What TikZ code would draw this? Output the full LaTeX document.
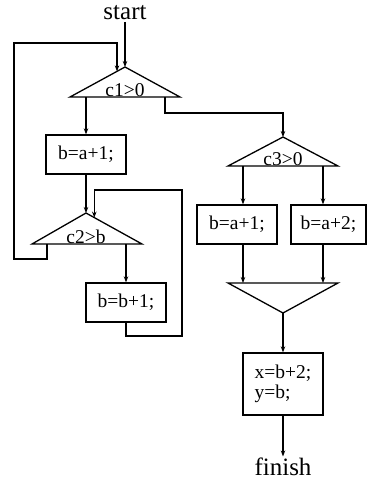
\documentclass[tikz,border=0pt]{standalone}
\usepackage{fontspec}
\setmainfont{Liberation Serif}
\usetikzlibrary{arrows.meta,calc}
\begin{document}
\begin{tikzpicture}[x=1pt,y=-1pt,
  line width=1.3pt,
  flow/.style={-{Stealth[length=6pt,width=4.5pt]}},
  stmt/.style={draw,minimum width=80pt,minimum height=39pt,inner sep=0pt,
    font=\fontsize{19.5}{19.5}\selectfont},
  cond/.style={font=\fontsize{19.5}{19.5}\selectfont,anchor=base,inner sep=0pt},
  term/.style={font=\fontsize{25}{26}\selectfont,inner sep=1pt}]
\useasboundingbox (0,0) rectangle (368,480);
% terminals
\node[term] (start) at (125,13) {start};
\node[term] (finish) at (283,467) {finish};
% condition c1
\coordinate (c1a) at (125,67);
\coordinate (c1l) at (70,97);
\coordinate (c1r) at (180,97);
\draw (c1a) -- (c1l) -- (c1r) -- cycle;
\node[cond] (c1) at (125,96) {c1>0};
% condition c2
\coordinate (c2a) at (86,213);
\coordinate (c2l) at (32,244);
\coordinate (c2r) at (142,244);
\draw (c2a) -- (c2l) -- (c2r) -- cycle;
\node[cond] (c2) at (86,243) {c2>b};
% condition c3
\coordinate (c3a) at (283,137);
\coordinate (c3l) at (228,166);
\coordinate (c3r) at (338,166);
\draw (c3a) -- (c3l) -- (c3r) -- cycle;
\node[cond] (c3) at (283,165) {c3>0};
% merge
\coordinate (mgl) at (228,283);
\coordinate (mgr) at (338,283);
\coordinate (mga) at (283,313);
\draw (mgl) -- (mgr) -- (mga) -- cycle;
% statements
\node[stmt] (b1) at (86,154.5) {b=a+1;};
\node[stmt] (b2) at (126,302.5) {b=b+1;};
\node[stmt] (b3) at (237,224.5) {b=a+1;};
\node[stmt,minimum width=75pt] (b4) at (328.5,224.5) {b=a+2;};
\node[stmt,minimum height=62pt,align=left] (b5) at (283,384) {x=b+2;\\y=b;};
% base points
\coordinate (c1o1) at (86,97);
\coordinate (c1o2) at (165,97);
\coordinate (c2o1) at (47,244);
\coordinate (c2o2) at (126,244);
\coordinate (c3o1) at (243,166);
\coordinate (c3o2) at (323,166);
\coordinate (c1in) at ($(c1a)!8/55!(c1l)$);
\coordinate (c2in) at ($(c2a)!8/54!(c2r)$);
% connectors
\draw[flow] (start) -- (c1a);
\draw[flow] (c2o1) -- (47,259) -- (14,259) -- (14,43) -- (c1in |- 0,43) -- (c1in);
\draw[flow] (c1o1) -- (b1.north);
\draw[flow] (c1o2) -- (165,113) -- (283,113) -- (c3a);
\draw[flow] (b1.south) -- (c2a);
\draw[flow] (c2o2) -- (b2.north);
\draw[flow] (b2.south) -- (126,336) -- (182,336) -- (182,190) -- (c2in |- 0,190) -- (c2in);
\draw[flow] (c3o1) -- (c3o1 |- b3.north);
\draw[flow] (c3o2) -- (c3o2 |- b4.north);
\draw[flow] (c3o1 |- b3.south) -- (c3o1 |- mgl);
\draw[flow] (c3o2 |- b4.south) -- (c3o2 |- mgr);
\draw[flow] (mga) -- (b5.north);
\draw[flow] (b5.south) -- (finish.north);
\end{tikzpicture}
\end{document}
